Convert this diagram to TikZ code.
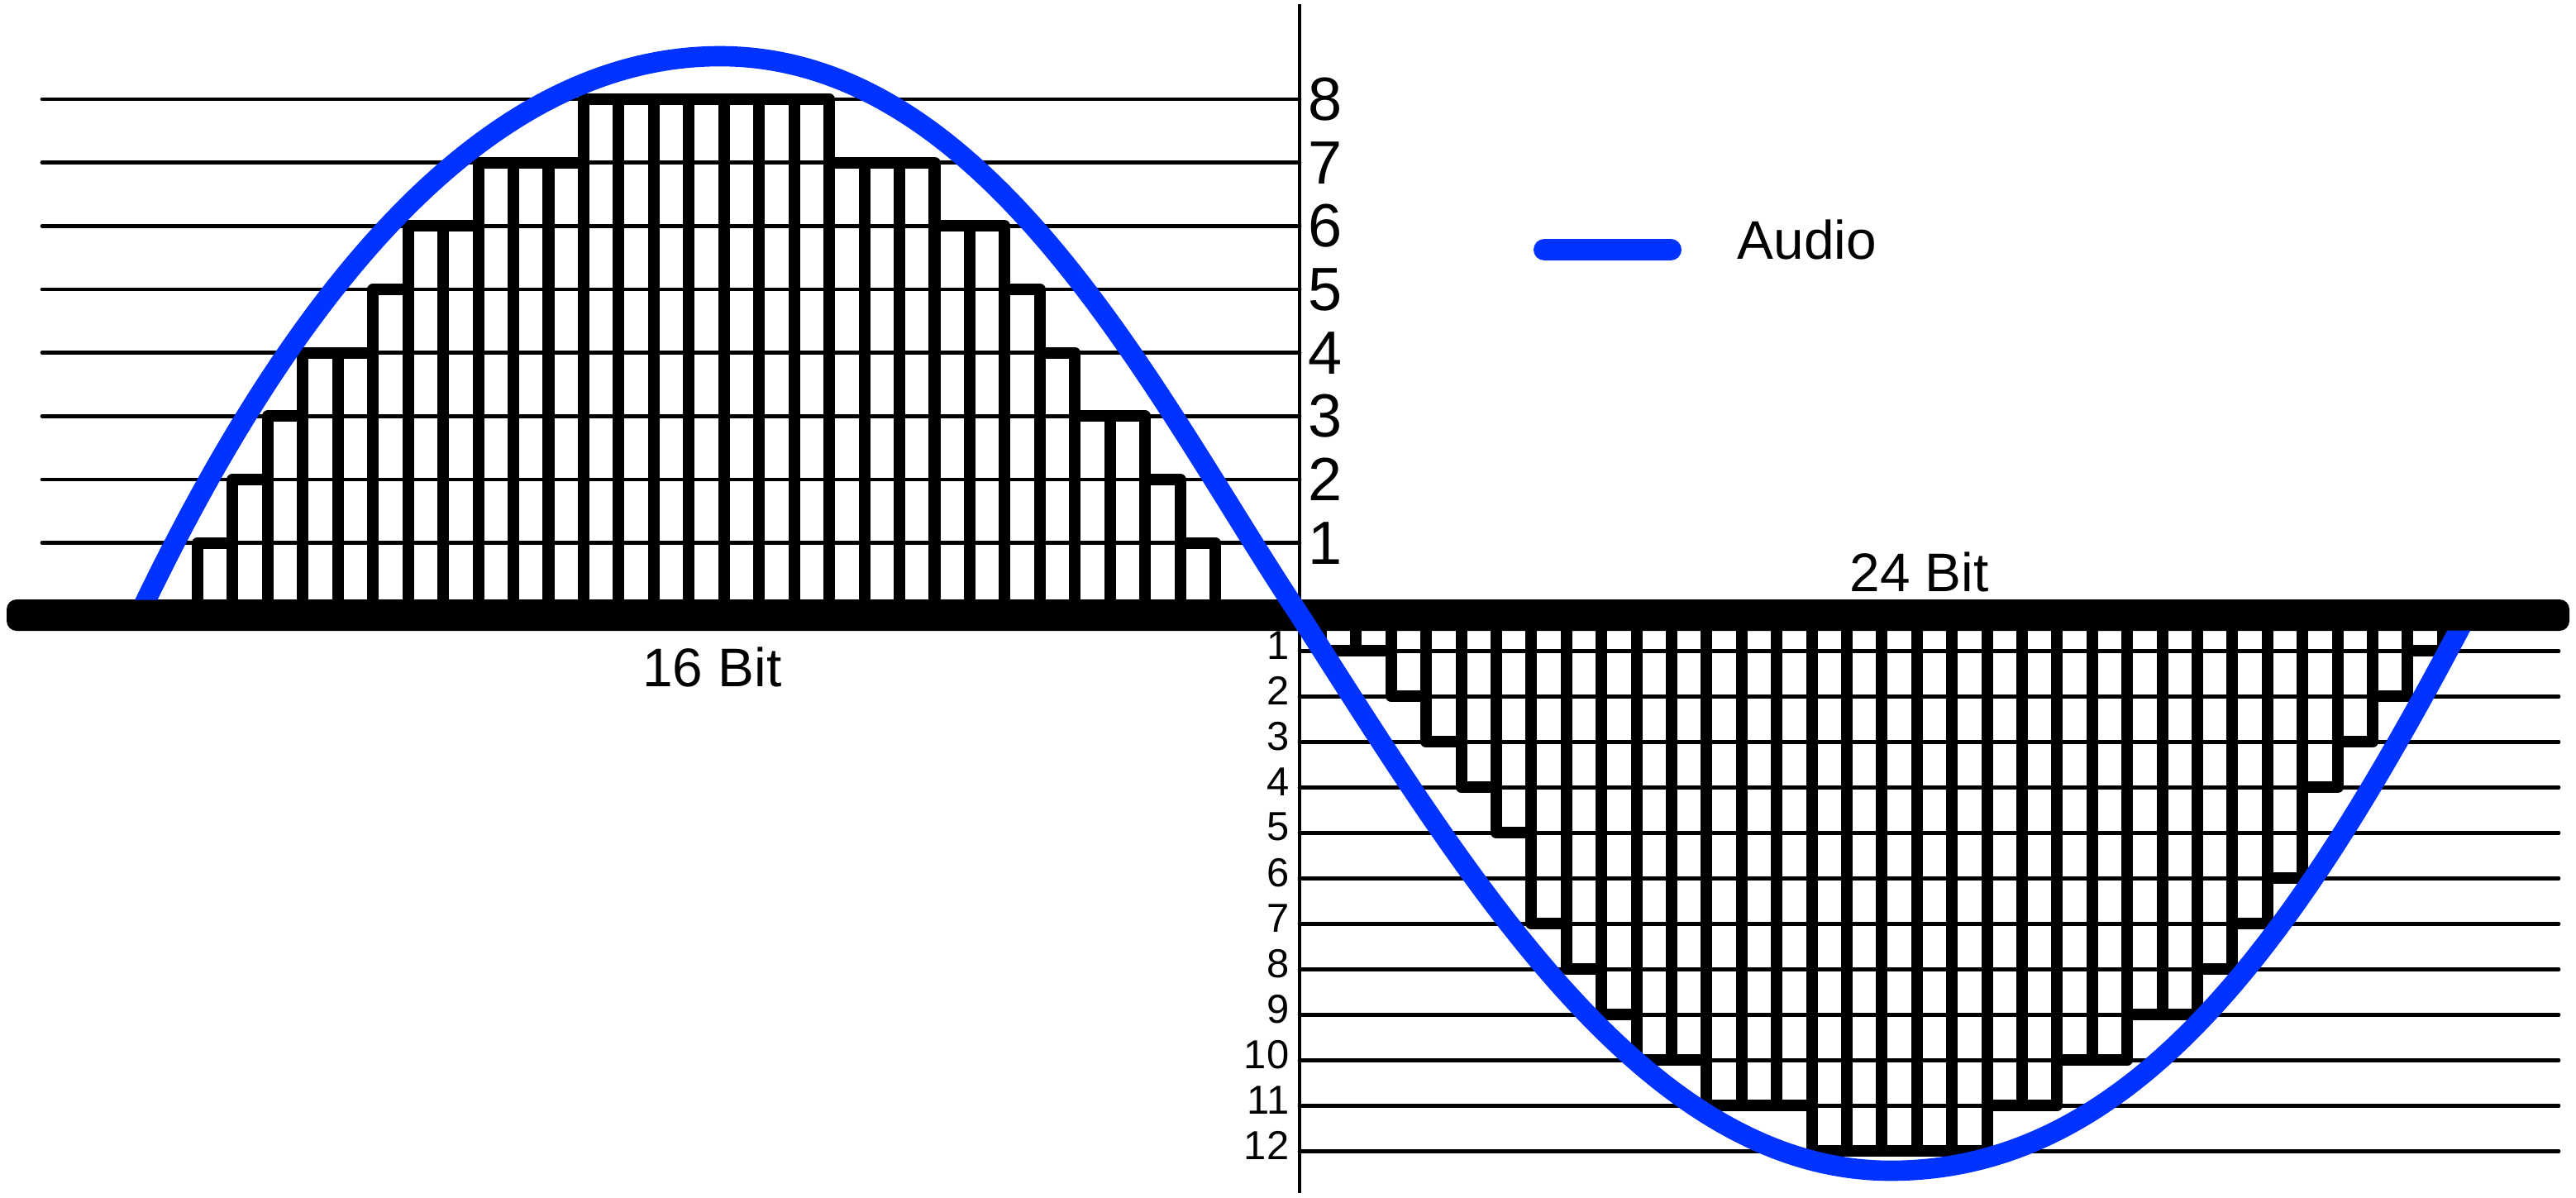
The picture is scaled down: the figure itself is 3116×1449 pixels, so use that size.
\documentclass[tikz,border=0pt]{standalone}
\usepackage{fontspec}
\setmainfont{Liberation Sans}
\definecolor{audioblue}{RGB}{0,51,255}
\begin{document}
\begin{tikzpicture}[x=0.01cm, y=-0.01cm,
		level/.style={line width=1.35pt, line cap=round},
		sample/.style={line width=4pt, line join=round},
		wave/.style={audioblue, line width=7pt},
		toplbl/.style={anchor=west, inner sep=0pt, font=\fontsize{21}{21}\selectfont},
		botlbl/.style={anchor=east, inner sep=0pt, font=\fontsize{13.9}{14}\selectfont},
		bitlbl/.style={inner sep=0pt, font=\fontsize{18.7}{19}\selectfont}]
		\useasboundingbox (0,0) rectangle (3116,1449);
		
		\foreach \k in {1,...,8}
			\draw[level] (51,{733.33-76.667*\k}) -- (1572,{733.33-76.667*\k});
		\foreach \k in {1,...,12}
			\draw[level] (1572,{732.3+55*\k}) -- (3095,{732.3+55*\k});
		
		\foreach \h [count=\i from 0] in {1,2,3,4,4,5,6,6,7,7,7,8,8,8,8,8,8,8,7,7,7,6,6,5,4,3,3,2,1}
			\draw[sample] ({239+42.45*\i},744) rectangle ({239+42.45*(\i+1)},{733.33-76.667*\h});
		\foreach \h [count=\i from 0] in {1,1,2,3,4,5,7,8,9,10,10,11,11,11,12,12,12,12,12,11,11,10,10,9,9,8,7,6,4,3,2,1}
			\draw[sample] ({1598+42.4*\i},744) rectangle ({1598+42.4*(\i+1)},{732.3+55*\h});
		
		\fill[rounded corners=0.12cm] (8,725) rectangle (3108,763);
		\draw[line width=1.15pt] (1572,5) -- (1572,1443);
		
		\coordinate (zeroL) at (168,744);
		\coordinate (peak) at (871,68);
		\coordinate (zeroM) at (1572,744);
		\coordinate (trough) at (2287,1416);
		\coordinate (zeroR) at (2984,744);
		\begin{scope}
			\clip (0,0) rectangle (3116,725.5) (0,762.5) rectangle (3116,1449) (1450,700) rectangle (1700,800);
			\draw[wave] (zeroL) .. controls (338,387) and (571,68) .. (peak)
				.. controls (1201,68) and (1402,489) .. (zeroM)
				.. controls (1772,1056) and (1987,1416) .. (trough)
				.. controls (2587,1416) and (2784,1124) .. (zeroR);
		\end{scope}
		
		\foreach \k in {1,...,8}
			\node[toplbl] (t\k) at (1582,{733.33-76.667*\k}) {\k};
		\foreach \k in {1,...,12}
			\node[botlbl] (b\k) at (1560,{725.3+55*\k}) {\k};
		
		\node[bitlbl] (bit16) at (861.5,807) {16 Bit};
		\node[bitlbl] (bit24) at (2321.5,691.5) {24 Bit};
		
		\coordinate (keyA) at (1868,302);
		\coordinate (keyB) at (2021,302);
		\draw[audioblue, line width=7.4pt, line cap=round] (keyA) -- (keyB);
		\node[bitlbl] (audio) at (2186,290) {Audio};
	\end{tikzpicture}
\end{document}
